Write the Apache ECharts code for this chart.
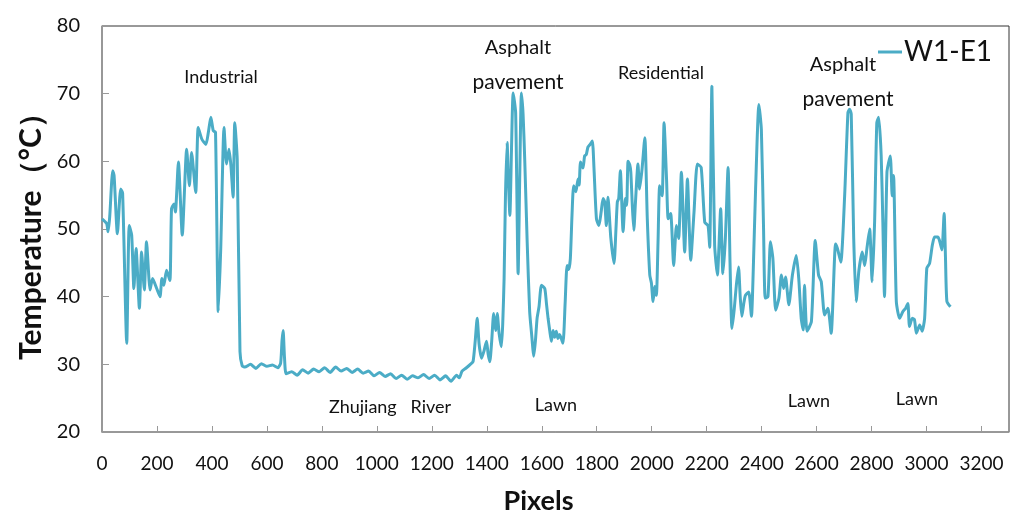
<!DOCTYPE html>
<html>
<head>
<meta charset="utf-8">
<script src="https://cdn.jsdelivr.net/npm/echarts@6/dist/echarts.min.js"></script>
<style>
  html, body { margin: 0; padding: 0; background: #fff; }
  #chart { width: 1024px; height: 530px; }
</style>
</head>
<body>
<div id="chart"></div>
<script>
  // profile: pixel position along the W1-E1 transect and temperature
  var pixels = [
    0, 17, 22, 28, 39, 44, 56, 68, 75, 90, 99, 108, 116, 124, 136, 144, 154, 162, 175, 184,
    199, 211, 218, 225, 235, 247, 253, 262, 267, 278, 292, 308, 318, 326, 341, 350, 363, 378, 387, 396,
    405, 413, 423, 432, 444, 453, 462, 469, 477, 483, 492, 502, 510,
    520, 540, 560, 580, 600, 620, 640, 650, 655, 659, 664, 670, 690, 710, 730, 750, 770, 790,
    810, 830, 850, 870, 890, 910, 930, 950, 970, 990, 1010, 1030, 1050, 1070, 1090, 1110, 1130, 1150,
    1170, 1190, 1210, 1230, 1250, 1270, 1290, 1300, 1310,
    1326, 1340, 1350, 1358, 1365, 1372, 1381, 1390, 1399, 1405, 1411, 1418, 1425, 1432, 1438, 1445,
    1453, 1458, 1463, 1468, 1474, 1478, 1484, 1490, 1496, 1505, 1514, 1520, 1526, 1532, 1538, 1547,
    1556, 1563, 1571, 1577, 1583, 1590, 1599, 1611, 1617, 1623, 1629, 1635, 1641, 1647, 1653, 1659,
    1665, 1677, 1685, 1692, 1698, 1704, 1710, 1716, 1724, 1732, 1736, 1741, 1750, 1756, 1762, 1768,
    1776, 1784, 1790, 1799, 1808, 1816, 1823, 1829, 1835, 1841,
    1851, 1863, 1870, 1875, 1880, 1886, 1896, 1904, 1909, 1914, 1920, 1924, 1930, 1935, 1941, 1950,
    1956, 1965, 1975, 1984, 1993, 1999, 2005, 2011, 2017, 2023, 2029, 2038, 2045, 2054, 2060, 2069,
    2080, 2090, 2098, 2108, 2120, 2130, 2142, 2154, 2166, 2180, 2193, 2205, 2211, 2219, 2229, 2239,
    2251, 2259, 2268, 2278, 2285, 2292, 2300, 2308, 2316, 2322, 2328, 2335, 2341, 2353, 2363, 2369,
    2378, 2390, 2399, 2407, 2413, 2423, 2432, 2441, 2451, 2463, 2472, 2480, 2487, 2499, 2512, 2526,
    2535, 2544, 2551, 2556, 2565, 2581, 2595, 2607, 2617, 2629, 2641, 2653, 2669, 2676, 2688, 2702,
    2714, 2720, 2726, 2735, 2744, 2754, 2766, 2775, 2783, 2793, 2802, 2811, 2819, 2826, 2835, 2841,
    2847, 2856, 2868, 2875, 2880, 2890, 2902, 2914, 2924, 2932, 2938, 2948, 2956, 2963, 2975, 2984,
    2993, 3001, 3011, 3021, 3029, 3041, 3047, 3056, 3064, 3069, 3074, 3087
  ]
  var temperature = [
    51.5, 50.8, 49.6, 51.8, 58.6, 57.9, 49.3, 55.9, 55.3, 33.1, 50.5, 49.1, 41.2, 47.1, 38.3, 46.6, 41.0, 48.1, 41.0, 42.7,
    41.2, 40.0, 42.7, 41.7, 43.9, 42.4, 53.0, 53.7, 52.5, 59.9, 49.1, 61.8, 56.4, 61.3, 55.4, 65.0, 63.3, 62.5, 64.3, 66.5,
    64.5, 64.3, 37.8, 47.1, 65.0, 59.6, 61.8, 59.4, 54.7, 65.7, 60.3, 31.9, 29.8,
    29.6, 30.0, 29.4, 30.1, 29.7, 29.9, 29.5, 30.2, 33.5, 35.0, 31.0, 28.6, 28.9, 28.4, 29.2, 28.7, 29.3, 28.9,
    29.5, 28.8, 29.6, 29.0, 29.4, 28.8, 29.3, 28.7, 29.0, 28.3, 28.8, 28.2, 28.6, 27.9, 28.4, 27.8, 28.3, 28.0,
    28.5, 27.9, 28.4, 27.7, 28.3, 27.5, 28.4, 28.0, 29.0,
    29.5, 30.0, 30.4, 33.5, 36.8, 33.0, 30.9, 32.0, 33.4, 31.5, 30.4, 33.5, 37.5, 35.0, 37.5, 34.5,
    32.6, 36.0, 42.7, 55.0, 62.8, 58.0, 52.0, 62.0, 70.1, 67.2, 43.4, 58.0, 70.1, 67.0, 60.3, 48.0,
    37.8, 34.5, 31.2, 33.5, 36.8, 38.5, 41.7, 41.2, 39.0, 36.8, 35.0, 33.4, 35.0, 34.0, 34.9, 33.8,
    34.4, 33.1, 39.0, 44.6, 44.0, 45.6, 52.0, 56.4, 55.5, 57.4, 56.5, 59.9, 59.0, 60.8, 61.0, 62.1,
    62.5, 63.0, 59.0, 51.5, 50.5, 52.5, 54.5, 54.0, 50.5, 54.7,
    48.8, 44.9, 50.0, 54.0, 54.5, 58.6, 49.6, 54.5, 53.5, 60.0, 59.5, 58.4, 53.0, 49.8, 54.0, 59.6,
    55.9, 58.9, 63.5, 51.5, 43.2, 42.0, 39.3, 41.5, 40.2, 48.0, 56.4, 54.9, 65.7, 57.4, 51.5, 52.3,
    44.6, 50.5, 48.6, 58.4, 46.6, 57.4, 45.4, 52.5, 59.6, 59.1, 51.0, 50.5, 47.3, 71.1, 47.6, 43.2,
    53.0, 43.4, 48.6, 59.1, 45.0, 35.3, 38.0, 41.7, 44.4, 40.0, 37.1, 39.0, 40.2, 40.7, 37.1, 43.2,
    55.9, 68.4, 64.7, 50.0, 39.8, 40.0, 48.1, 45.6, 38.0, 39.8, 43.2, 41.2, 42.9, 38.8, 43.2, 46.1,
    42.7, 36.8, 35.1, 41.7, 34.9, 36.3, 48.3, 43.2, 42.2, 37.3, 38.3, 34.6, 47.8, 47.1, 45.1, 54.9,
    67.2, 67.7, 67.0, 48.6, 39.3, 43.9, 46.6, 44.6, 47.1, 50.0, 42.2, 51.0, 65.7, 66.5, 60.8, 51.0,
    40.0, 58.4, 60.8, 54.9, 57.9, 39.3, 36.8, 37.8, 38.3, 39.0, 35.6, 36.8, 36.6, 34.6, 35.8, 34.9,
    36.8, 44.2, 44.9, 47.6, 48.8, 48.8, 48.3, 46.9, 52.3, 45.6, 39.3, 38.5
  ]
  var seriesName = 'W1-E1'
  var lineColor = '#4bacc6'

  var font = 'Lato, "Noto Sans", sans-serif'

  var chart = echarts.init(document.getElementById('chart'))

  function note(text, x, y, size){
    return {
      type: 'text', x: x, y: y, silent: true,
      style: { text: text, font: size + 'px ' + font, fill: '#111', align: 'center', verticalAlign: 'middle' }
    }
  }

  chart.setOption({
    animation: false,
    grid: {
      left: 102, right: 15, top: 26, bottom: 98,
      show: true, borderColor: '#333', borderWidth: 1, backgroundColor: 'transparent'
    },
    legend: {
      data: [seriesName],
      left: 873, top: 33,
      icon: 'rect', itemWidth: 24, itemHeight: 3, itemGap: 0,
      textStyle: { fontFamily: font, fontSize: 28, color: '#111', padding: [0, 0, 0, -3] }
    },
    xAxis: {
      type: 'value', min: 0, max: 3300, interval: 200,
      name: 'Pixels', nameLocation: 'middle', nameGap: 56,
      nameTextStyle: { fontFamily: font, fontSize: 27, fontWeight: 'bold', color: '#111', padding: [0, 34, 0, 0] },
      axisLine: { show: true, lineStyle: { color: '#999', width: 1.5 } },
      axisTick: { show: true, inside: true, length: 6, lineStyle: { color: '#999' } },
      axisLabel: {
        showMaxLabel: false, margin: 22, fontFamily: font, fontSize: 19, color: '#111',
        formatter: function(v){ return String(v) }
      },
      splitLine: { show: false }
    },
    yAxis: {
      type: 'value', min: 20, max: 80, interval: 10,
      name: 'Temperature（°C）', nameLocation: 'middle', nameGap: 56,
      nameTextStyle: { fontFamily: font, fontSize: 30, fontWeight: 'bold', color: '#111' },
      axisLine: { show: true, lineStyle: { color: '#999', width: 1.5 } },
      axisTick: { show: true, inside: true, length: 7, lineStyle: { color: '#999' } },
      axisLabel: { margin: 22, fontFamily: font, fontSize: 20, color: '#111' },
      splitLine: { show: false }
    },
    series: [{
      type: 'line',
      name: seriesName,
      data: pixels.map(function(p, i){ return [p, temperature[i]] }),
      showSymbol: false,
      smooth: 0.2,
      color: lineColor,
      lineStyle: { color: lineColor, width: 3 }
    }],
    graphic: [
      note('Industrial', 221, 77, 18),
      note('Asphalt', 518, 48, 20),
      note('pavement', 518, 82, 21),
      note('Residential', 661, 73, 18),
      note('Asphalt', 843, 65, 20),
      note('pavement', 848, 99, 21),
      note('Zhujiang   River', 390, 407, 18),
      note('Lawn', 556, 405, 18),
      note('Lawn', 809, 401, 18),
      note('Lawn', 917, 399, 18)
    ]
  })
</script>
</body>
</html>
